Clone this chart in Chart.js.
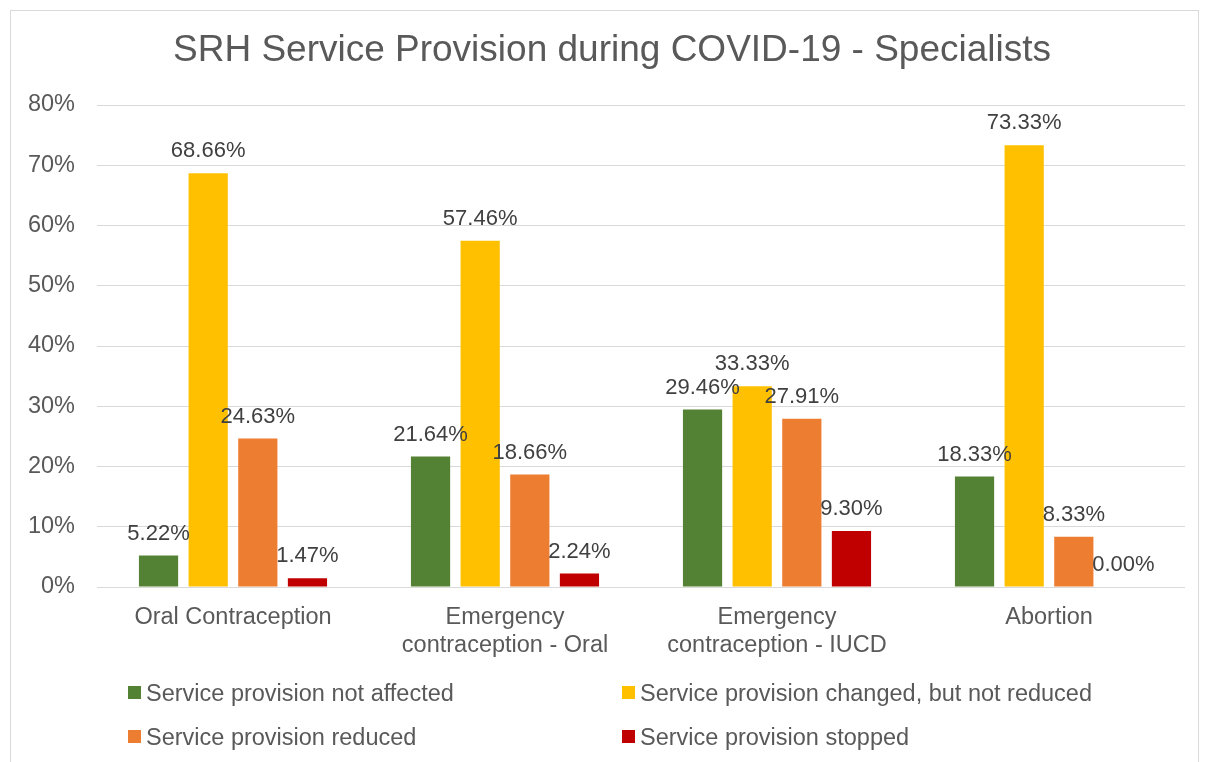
<!DOCTYPE html>
<html>
<head>
<meta charset="utf-8">
<script src="https://cdn.jsdelivr.net/npm/chart.js@4/dist/chart.umd.min.js"></script>
<style>
  html, body { margin: 0; padding: 0; background: #fff; }
  body { width: 1206px; height: 762px; position: relative; overflow: hidden;
         font-family: "Liberation Sans", Arial, sans-serif; }
  #frame { position: absolute; left: 10px; top: 10px; width: 1189px; height: 800px;
           border: 1px solid #d9d9d9; box-sizing: border-box; }
  #wrap { position: absolute; left: 0; top: 0; width: 1206px; height: 762px; }
  .leg { position: absolute; font-size: 23.5px; color: #595959; white-space: nowrap; line-height: 24px; }
  .leg span { position: absolute; left: -18px; top: 5px; width: 13px; height: 13px; }
</style>
</head>
<body>
<div id="frame"></div>
<div id="wrap"><canvas id="c" width="1206" height="762"></canvas></div>
<div id="legend"></div>
<script>
(() => {
  // ---- DATA ----
  const categories = [
    "Oral Contraception",
    ["Emergency", "contraception - Oral"],
    ["Emergency", "contraception - IUCD"],
    "Abortion"
  ];
  const seriesNames = [
    "Service provision not affected",
    "Service provision changed, but not reduced",
    "Service provision reduced",
    "Service provision stopped"
  ];
  const notAffected = [5.22, 21.64, 29.46, 18.33];
  const changedNotReduced = [68.66, 57.46, 33.33, 73.33];
  const reduced = [24.63, 18.66, 27.91, 8.33];
  const stopped = [1.47, 2.24, 9.30, 0.00];
  const yTicks = [0, 10, 20, 30, 40, 50, 60, 70, 80];

  const colors = ["#548235", "#FFC000", "#ED7D31", "#C00000"];
  const seriesData = [notAffected, changedNotReduced, reduced, stopped];
  const textColor = "#595959";
  const font = '"Liberation Sans", Arial, sans-serif';

  // ---- PLUGINS ----
  const titlePlugin = {
    id: "titlePlugin",
    afterDraw(chart) {
      const { ctx } = chart;
      ctx.save();
      ctx.font = "37px " + font;
      ctx.fillStyle = textColor;
      ctx.textAlign = "center";
      ctx.textBaseline = "middle";
      ctx.fillText("SRH Service Provision during COVID-19 - Specialists", 612, 51);
      ctx.restore();
    }
  };

  const valueLabels = {
    id: "valueLabels",
    afterDatasetsDraw(chart) {
      const { ctx } = chart;
      ctx.save();
      ctx.font = "22px " + font;
      ctx.fillStyle = "#404040";
      ctx.textAlign = "center";
      ctx.textBaseline = "middle";
      chart.data.datasets.forEach((ds, i) => {
        chart.getDatasetMeta(i).data.forEach((bar, j) => {
          ctx.fillText(ds.data[j].toFixed(2) + "%", bar.x, bar.y - 22);
        });
      });
      ctx.restore();
    }
  };

  // ---- CHART ----
  new Chart(document.getElementById("c"), {
    type: "bar",
    data: {
      labels: categories,
      datasets: seriesNames.map((name, i) => ({
        label: name,
        data: seriesData[i],
        backgroundColor: colors[i],
        categoryPercentage: 0.73,
        barPercentage: 0.79
      }))
    },
    options: {
      responsive: false,
      animation: false,
      layout: { padding: { top: 105, left: 0, right: 21, bottom: 0 } },
      plugins: {
        legend: { display: false },
        title: { display: false },
        tooltip: { enabled: false }
      },
      scales: {
        x: {
          grid: { display: false },
          border: { display: false },
          ticks: {
            color: textColor,
            font: { size: 23.5, family: font, lineHeight: 1.19 },
            padding: 9,
            maxRotation: 0
          },
          afterFit(scale) { scale.height = 175; }
        },
        y: {
          min: 0,
          max: 80,
          afterBuildTicks(scale) { scale.ticks = yTicks.map(v => ({ value: v })); },
          grid: { color: "#d9d9d9", lineWidth: 1, drawTicks: false },
          border: { display: false },
          ticks: {
            color: textColor,
            font: { size: 23.5, family: font },
            padding: 22,
            callback: v => v + "%"
          },
          afterFit(scale) { scale.width = 97; }
        }
      }
    },
    plugins: [titlePlugin, valueLabels]
  });

  // ---- LEGEND ----
  const legendPos = [[146, 681], [640, 681], [146, 725], [640, 725]];
  const legendEl = document.getElementById("legend");
  seriesNames.forEach((name, i) => {
    const d = document.createElement("div");
    d.className = "leg";
    d.style.left = legendPos[i][0] + "px";
    d.style.top = legendPos[i][1] + "px";
    d.innerHTML = '<span style="background:' + colors[i] + '"></span>' + name;
    legendEl.appendChild(d);
  });
})();
</script>
</body>
</html>
